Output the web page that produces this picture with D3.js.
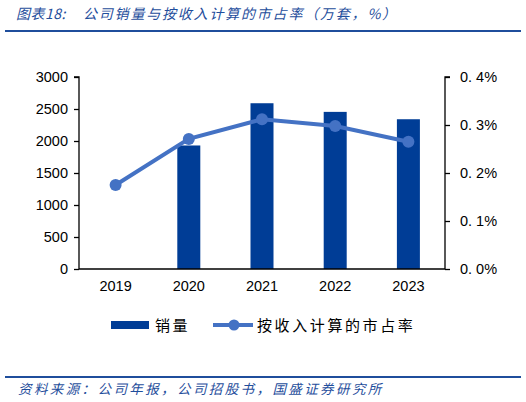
<!DOCTYPE html>
<html>
<head>
<meta charset="utf-8">
<script src="https://cdn.jsdelivr.net/npm/d3@7"></script>
<style>
  body { margin: 0; background: #fff; }
  text { font-family: "Liberation Sans", Arial, sans-serif; }
  .cjk { font-family: "Noto Sans CJK SC", sans-serif; }
</style>
</head>
<body>
<svg id="chart" width="526" height="402"></svg>
<script>
const years = ["2019", "2020", "2021", "2022", "2023"];
const sales = [null, 1930, 2590, 2455, 2340];
const share = [0.175, 0.271, 0.312, 0.298, 0.265];
const leftTicks = [0, 500, 1000, 1500, 2000, 2500, 3000];
const rightTicks = [0, 0.1, 0.2, 0.3, 0.4];

const barColor = "#003d96";
const lineColor = "#4472c4";
const titleColor = "#1f4e9c";

const margin = { top: 77, left: 79, right: 81, bottom: 133 };
const width = 526, height = 402;
const chart_width = width - margin.left - margin.right;
const chart_height = height - margin.top - margin.bottom;

const svg = d3.select("#chart");

// title + rule
const title = svg.append("text")
  .attr("class", "cjk")
  .attr("y", 19)
  .attr("fill", titleColor)
  .attr("font-size", 14)
  .attr("font-style", "italic");
title.append("tspan").attr("x", 16).attr("letter-spacing", 0.5).text("图表18:");
title.append("tspan").attr("x", 83).attr("letter-spacing", 1.8).text("公司销量与按收入计算的市占率（万套，%）");
svg.append("line")
  .attr("x1", 5).attr("x2", 521).attr("y1", 31).attr("y2", 31)
  .attr("stroke", "#1f4e9c").attr("stroke-width", 2);

const g = svg.append("g")
  .attr("transform", "translate(" + margin.left + "," + margin.top + ")");

const xScale = d3.scaleBand().domain(years).range([0, chart_width]).padding(0);
const yLeft = d3.scaleLinear().domain([0, 3000]).range([chart_height, 0]);
const yRight = d3.scaleLinear().domain([0, 0.4]).range([chart_height, 0]);

const barW = 23;

g.selectAll("rect.bar")
  .data(years.map((y, i) => ({ y, v: sales[i] })).filter(d => d.v != null))
  .enter().append("rect")
  .attr("class", "bar")
  .attr("x", d => xScale(d.y) + xScale.bandwidth() / 2 - barW / 2)
  .attr("width", barW)
  .attr("y", d => yLeft(d.v))
  .attr("height", d => chart_height - yLeft(d.v))
  .attr("fill", barColor);

// axes
const leftAxis = g.append("g")
  .call(d3.axisLeft(yLeft).tickValues(leftTicks).tickSize(5).tickPadding(6)
    .tickFormat(d3.format("d")));
const rightAxis = g.append("g")
  .attr("transform", "translate(" + chart_width + ",0)")
  .call(d3.axisRight(yRight).tickValues(rightTicks).tickSize(5).tickPadding(10)
    .tickFormat(d => d.toFixed(1).replace(".", ". ") + "%"));
const xAxis = g.append("g")
  .attr("transform", "translate(0," + chart_height + ")")
  .call(d3.axisBottom(xScale).tickSize(0).tickPadding(12));

[leftAxis, rightAxis, xAxis].forEach(a => {
  a.select(".domain").attr("stroke", "#000").attr("stroke-width", 1.3);
  a.selectAll(".tick line").attr("stroke", "#000").attr("stroke-width", 1.3);
  a.selectAll("text").attr("font-size", 14.5).attr("fill", "#000")
    .attr("font-family", "'Liberation Sans', Arial, sans-serif");
});
leftAxis.select(".domain").attr("d", "M-5,0H0V" + chart_height);
rightAxis.select(".domain").attr("d", "M5,0H0V" + chart_height);
xAxis.select(".domain").attr("d", "M0,0H" + chart_width);

// line
const line = d3.line()
  .x((d, i) => xScale(years[i]) + xScale.bandwidth() / 2)
  .y(d => yRight(d));

g.append("path")
  .datum(share)
  .attr("d", line)
  .attr("fill", "none")
  .attr("stroke", lineColor)
  .attr("stroke-width", 4);

g.selectAll("circle.pt")
  .data(share)
  .enter().append("circle")
  .attr("class", "pt")
  .attr("cx", (d, i) => xScale(years[i]) + xScale.bandwidth() / 2)
  .attr("cy", d => yRight(d))
  .attr("r", 6)
  .attr("fill", lineColor);

// legend
const lg = svg.append("g").attr("transform", "translate(0,325)");
lg.append("rect").attr("x", 111).attr("y", -4).attr("width", 38).attr("height", 8).attr("fill", barColor);
lg.append("text").attr("class", "cjk").attr("x", 155).attr("y", 6)
  .attr("font-size", 15).attr("letter-spacing", 2.5).attr("fill", "#000").text("销量");
lg.append("line").attr("x1", 213).attr("x2", 253).attr("y1", 0).attr("y2", 0)
  .attr("stroke", lineColor).attr("stroke-width", 4);
lg.append("circle").attr("cx", 234).attr("cy", 0).attr("r", 5.5).attr("fill", lineColor);
lg.append("text").attr("class", "cjk").attr("x", 257).attr("y", 6)
  .attr("font-size", 15).attr("letter-spacing", 2.6).attr("fill", "#000").text("按收入计算的市占率");

// footer
svg.append("line")
  .attr("x1", 5).attr("x2", 521).attr("y1", 377).attr("y2", 377)
  .attr("stroke", "#1f4e9c").attr("stroke-width", 2);
svg.append("text")
  .attr("class", "cjk")
  .attr("x", 18).attr("y", 394)
  .attr("fill", titleColor)
  .attr("font-size", 13.5)
  .attr("letter-spacing", 2.4)
  .attr("font-style", "italic")
  .text("资料来源：公司年报，公司招股书，国盛证券研究所");
</script>
</body>
</html>
